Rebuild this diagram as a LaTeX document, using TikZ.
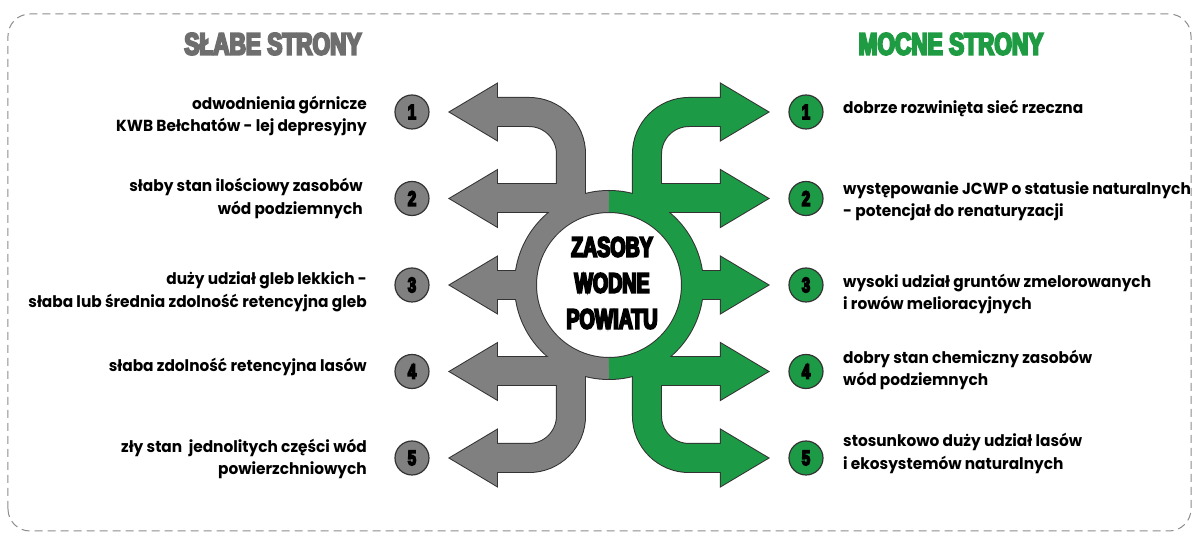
\documentclass[tikz,border=0pt]{standalone}
\usepackage{fontspec}
\setmainfont{Poppins}[FakeStretch=0.96]
\newfontfamily\headfont{Liberation Sans}[UprightFont=* Bold, FakeStretch=0.7]
\newcommand{\heavy}[2]{\special{pdf:literal direct 2 Tr #1 w}#2\special{pdf:literal direct 0 Tr}}
\definecolor{arrowgray}{HTML}{808080}
\definecolor{arrowgreen}{HTML}{1D9A46}
\definecolor{edge}{HTML}{333333}
\definecolor{headgray}{HTML}{6E6E6E}
\definecolor{headgreen}{HTML}{1F9B43}
\definecolor{frame}{HTML}{8C8C8C}
\tikzset{
  txt/.style={inner sep=0pt, font=\bfseries\fontsize{16}{22.5}\selectfont},
  head/.style={inner sep=0pt, font=\headfont\fontsize{31}{31}\selectfont},
  numc/.style={circle, draw=edge, line width=1.2pt, minimum size=34pt, inner sep=0pt,
    font=\headfont\fontsize{21}{21}\selectfont},
}
\begin{document}
\begin{tikzpicture}[x=1pt,y=1pt]
    \useasboundingbox (-609,-249) rectangle (586,285);

        % dashed frame
        \draw[frame, line width=1pt, dash pattern=on 8pt off 5pt, rounded corners=22pt] (-601,-246) rectangle (582,271);

        % outlines of both halves first
        \foreach \s in {1,-1}{
        \begin{scope}[xscale=\s]
        \draw[edge, line width=30pt] (-125,173) -- (-80,173) arc[start angle=90, end angle=0, radius=42] -- (-38,76);
        \draw[edge, line width=30pt] (-125,-173) -- (-80,-173) arc[start angle=-90, end angle=0, radius=42] -- (-38,-76);
        \draw[edge, line width=30pt] (-125,86.5) -- (-38,86.5);
        \draw[edge, line width=30pt] (-125,0) -- (-83,0);
        \draw[edge, line width=30pt] (-125,-86.5) -- (-38,-86.5);
        \foreach \y in {173,86.5,0,-86.5,-173}
            \draw[edge, line width=2pt, line join=miter] (-112,\y+28) -- (-159,\y) -- (-112,\y-28) -- cycle;
        \end{scope}
        }
        \draw[edge, line width=23pt] (0,0) circle[radius=83.5];

        % fills
        \foreach \s/\c in {1/arrowgray,-1/arrowgreen}{
        \begin{scope}[xscale=\s]
        \draw[\c, line width=28pt] (-125,173) -- (-80,173) arc[start angle=90, end angle=0, radius=42] -- (-38,76);
        \draw[\c, line width=28pt] (-125,-173) -- (-80,-173) arc[start angle=-90, end angle=0, radius=42] -- (-38,-76);
        \draw[\c, line width=28pt] (-125,86.5) -- (-38,86.5);
        \draw[\c, line width=28pt] (-125,0) -- (-83,0);
        \draw[\c, line width=28pt] (-125,-86.5) -- (-38,-86.5);
        \draw[\c, line width=21pt] (0,83.5) arc[start angle=90, end angle=270, radius=83.5];
        \foreach \y in {173,86.5,0,-86.5,-173}
            \fill[\c] (-112,\y+28) -- (-159,\y) -- (-112,\y-28) -- cycle;
        \end{scope}
        }

        % centre
        \node[align=center, inner sep=0pt, font=\headfont\fontsize{28}{36}\selectfont] (core) at (3,2)
            {\heavy{1.8}{ZASOBY}\\\heavy{1.8}{WODNE}\\\heavy{1.8}{POWIATU}};

        % headings
        \node[head, text=headgray] (weak) at (-336,241) {\heavy{2}{\addfontfeature{FakeStretch=0.73}SŁABE STRONY}};
        \node[head, text=headgreen] (strong) at (342,241) {\heavy{2}{\addfontfeature{FakeStretch=0.73}MOCNE STRONY}};

        % numbers
        \foreach \n/\y in {1/173,2/86.5,3/0,4/-86.5,5/-173}{
            \node[numc, fill=arrowgray] (nw\n) at (-197,\y) {\heavy{1.5}{\n}};
            \node[numc, fill=arrowgreen] (ns\n) at (197,\y) {\heavy{1.5}{\n}};
        }

        % weak sides
        \node[txt, anchor=east, align=right] (w1) at (-242,169) {odwodnienia górnicze\\KWB Bełchatów - lej depresyjny};
        \node[txt, anchor=east, align=right] (w2) at (-246,86.5) {słaby stan ilościowy zasobów\\wód podziemnych};
        \node[txt, anchor=east, align=right] (w3) at (-242,-7) {duży udział gleb lekkich -\\słaba lub średnia zdolność retencyjna gleb};
        \node[txt, anchor=east, align=right] (w4) at (-242,-82) {słaba zdolność retencyjna lasów};
        \node[txt, anchor=east, align=right] (w5) at (-242,-174) {zły stan\ \ jednolitych części wód\\powierzchniowych};

        % strong sides
        \node[txt, anchor=west, align=left] (s1) at (234,176) {dobrze rozwinięta sieć rzeczna};
        \node[txt, anchor=west, align=left] (s2) at (234,84) {występowanie JCWP o statusie naturalnych\\- potencjał do renaturyzacji};
        \node[txt, anchor=west, align=left] (s3) at (234,-9) {wysoki udział gruntów zmelorowanych\\i rowów melioracyjnych};
        \node[txt, anchor=west, align=left] (s4) at (234,-85) {dobry stan chemiczny zasobów\\wód podziemnych};
        \node[txt, anchor=west, align=left] (s5) at (234,-168.5) {stosunkowo duży udział lasów\\i ekosystemów naturalnych};

\end{tikzpicture}
\end{document}
